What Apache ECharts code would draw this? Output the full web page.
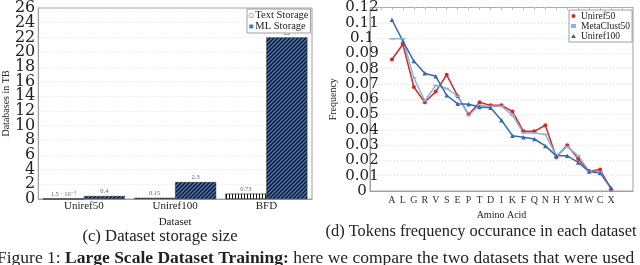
<!DOCTYPE html>
<html><head><meta charset="utf-8">
<script src="https://cdn.jsdelivr.net/npm/echarts@6/dist/echarts.min.js"></script>
<style>html,body{margin:0;padding:0;background:#fff}#c{width:640px;height:265px}</style>
</head><body><div id="c"></div>
<script>
// ---- data ----
const datasets = ['Uniref50', 'Uniref100', 'BFD'];
const textStorage = [0.015, 0.15, 0.73];
const mlStorage = [0.4, 2.3, 22];
const textStorageLabels = ['1.5 · 10⁻²', '0.15', '0.73'];
const mlStorageLabels = ['0.4', '2.3', '22'];

const aminoAcids = ['A','L','G','R','V','S','E','P','T','D','I','K','F','Q','N','H','Y','M','W','C','X'];
const uniref50 = [0.086,0.096,0.068,0.058,0.065,0.076,0.062,0.050,0.058,0.056,0.056,0.052,0.039,0.039,0.043,0.022,0.030,0.021,0.013,0.014,0.001];
const metaclust50 = [0.0995,0.0995,0.074,0.059,0.069,0.067,0.062,0.0495,0.056,0.0555,0.0555,0.0495,0.038,0.038,0.037,0.023,0.029,0.023,0.013,0.0125,0.001];
const uniref100 = [0.112,0.098,0.085,0.077,0.075,0.0626,0.057,0.0567,0.055,0.0545,0.0463,0.0362,0.0352,0.034,0.0295,0.023,0.023,0.0187,0.0127,0.0117,0.0022];

const SERIF = '"Liberation Serif", "DejaVu Serif", serif';
const NUMF = '"DejaVu Serif", serif';
const BLUE = '#4677c2';

function makePattern(kind) {
  const c = document.createElement('canvas');
  const g = c.getContext('2d');
  if (kind === 'diag') {
    c.width = 4; c.height = 4;
    g.fillStyle = BLUE; g.fillRect(0, 0, 4, 4);
    g.strokeStyle = '#111'; g.lineWidth = 1.3;
    g.beginPath();
    g.moveTo(-1, 5); g.lineTo(5, -1);
    g.moveTo(-1, 1); g.lineTo(1, -1);
    g.moveTo(3, 5); g.lineTo(5, 3);
    g.stroke();
  } else {
    c.width = 3; c.height = 4;
    g.fillStyle = '#fff'; g.fillRect(0, 0, 3, 4);
    g.fillStyle = '#111'; g.fillRect(1, 0, 1, 4);
  }
  return c;
}

const chart = echarts.init(document.getElementById('c'), null, {renderer: 'canvas'});
const gridLine = {show: true, lineStyle: {color: '#d8d8d8', type: [1, 2], width: 0.8}};
// left axis labels split over two overlaid axes (every other tick each) so none is auto-hidden
const leftLabel = (parity) => ({
  fontFamily: NUMF, fontSize: 16, color: '#222', margin: 3,
  formatter: v => ((v / 2) % 2 === parity) ? String(v) : ''
});

chart.setOption({
  animation: false,
  backgroundColor: '#fff',
  grid: [
    {left: 37, top: 6, width: 275, height: 193, show: true, borderColor: '#a0a0a0', borderWidth: 1},
    {left: 370, top: 7, width: 263, height: 184, show: true, borderColor: '#a0a0a0', borderWidth: 1}
  ],
  legend: [
    {
      left: 247, top: 9, orient: 'vertical', itemGap: 0, itemWidth: 4, itemHeight: 4,
      padding: [1, 2, 1, 2], borderColor: '#888', borderWidth: 0.8, backgroundColor: '#fff',
      textStyle: {fontFamily: SERIF, fontSize: 10.5, color: '#222', lineHeight: 9, padding: [0, 0, 0, -3]},
      data: [
        {name: 'Text Storage', itemStyle: {color: '#fff', borderColor: '#777', borderWidth: 0.6}},
        {name: 'ML Storage', itemStyle: {color: BLUE, borderWidth: 0}}
      ]
    },
    {
      left: 569, top: 10, orient: 'vertical', itemGap: 0, itemWidth: 5, itemHeight: 4,
      padding: [1, 2, 1, 2], borderColor: '#888', borderWidth: 0.8, backgroundColor: '#fff',
      textStyle: {fontFamily: SERIF, fontSize: 9.5, color: '#222', lineHeight: 8.3, width: 48, align: 'center'},
      data: [
        {name: 'Uniref50', icon: 'circle'},
        {name: 'MetaClust50', icon: 'rect', itemStyle: {color: '#8ab4dc'}},
        {name: 'Uniref100', icon: 'triangle'}
      ]
    }
  ],
  xAxis: [
    {
      type: 'category', gridIndex: 0, data: datasets,
      axisLine: {lineStyle: {color: '#a0a0a0'}}, axisTick: {show: false},
      axisLabel: {fontFamily: SERIF, fontSize: 11, color: '#222', margin: 2},
      name: 'Dataset', nameLocation: 'middle', nameGap: 12,
      nameTextStyle: {fontFamily: SERIF, fontSize: 11, color: '#222'}
    },
    {
      type: 'value', gridIndex: 1, min: -2, max: 22, interval: 1,
      axisLine: {onZero: false, lineStyle: {color: '#a0a0a0'}}, axisTick: {show: false},
      splitLine: {show: false},
      axisLabel: {
        fontFamily: SERIF, fontSize: 10, color: '#333', margin: 4,
        formatter: v => (v >= 0 && v < aminoAcids.length) ? aminoAcids[v] : ''
      },
      name: 'Amino Acid', nameLocation: 'middle', nameGap: 15,
      nameTextStyle: {fontFamily: SERIF, fontSize: 10, color: '#222'}
    },
    {
      type: 'value', gridIndex: 1, min: -2, max: 22, interval: 1, position: 'top',
      axisLine: {show: false, onZero: false}, axisLabel: {show: false}, splitLine: {show: false},
      axisTick: {show: true, inside: true, length: 2.5, lineStyle: {color: '#bbb'}}
    }
  ],
  yAxis: [
    {
      type: 'value', gridIndex: 0, min: 0, max: 26, interval: 2,
      axisLine: {show: true, onZero: false, lineStyle: {color: '#a0a0a0'}}, axisTick: {show: false},
      splitLine: gridLine,
      axisLabel: leftLabel(0),
      name: 'Databases in TB', nameLocation: 'middle', nameGap: 22,
      nameTextStyle: {fontFamily: SERIF, fontSize: 10, color: '#222'}
    },
    {
      type: 'value', gridIndex: 1, min: 0, max: 0.12, interval: 0.01,
      axisLine: {show: true, onZero: false, lineStyle: {color: '#a0a0a0'}}, axisTick: {show: false},
      splitLine: gridLine,
      axisLabel: {
        fontFamily: NUMF, fontSize: 15, lineHeight: 6, color: '#222', margin: 8, align: 'center',
        padding: [6, 0, 0, 0], showMinLabel: true, showMaxLabel: true,
        formatter: v => String(+v.toFixed(2))
      },
      name: 'Frequency', nameLocation: 'middle', nameGap: 32,
      nameTextStyle: {fontFamily: SERIF, fontSize: 10, color: '#222'}
    },
    {
      type: 'value', gridIndex: 0, min: 0, max: 26, interval: 2, position: 'left',
      axisLine: {show: false, onZero: false}, axisTick: {show: false}, splitLine: {show: false},
      axisLabel: leftLabel(1)
    }
  ],
  series: [
    {
      name: 'Text Storage', type: 'bar', xAxisIndex: 0, yAxisIndex: 0,
      data: textStorage, barWidth: 41, barGap: '0%',
      itemStyle: {color: {image: makePattern('vert'), repeat: 'repeat'}, borderColor: '#111', borderWidth: 0.6},
      label: {show: true, position: 'top', distance: 1, fontFamily: SERIF, fontSize: 6.5, color: '#666',
        formatter: p => textStorageLabels[p.dataIndex]}
    },
    {
      name: 'ML Storage', type: 'bar', xAxisIndex: 0, yAxisIndex: 0,
      data: mlStorage, barWidth: 41, barGap: '0%',
      itemStyle: {color: {image: makePattern('diag'), repeat: 'repeat'}, borderColor: '#222', borderWidth: 0.5},
      label: {show: true, position: 'top', distance: 1, fontFamily: SERIF, fontSize: 6.5, color: '#666',
        formatter: p => mlStorageLabels[p.dataIndex]}
    },
    {
      name: 'Uniref50', type: 'line', xAxisIndex: 1, yAxisIndex: 1,
      data: uniref50.map((v, i) => [i, v]),
      color: '#d62828', lineStyle: {width: 1.5}, symbol: 'circle', symbolSize: 4
    },
    {
      name: 'MetaClust50', type: 'line', xAxisIndex: 1, yAxisIndex: 1,
      data: metaclust50.map((v, i) => [i, v]),
      color: '#8ab4dc', lineStyle: {width: 1.5}, symbol: 'rect', symbolSize: [5, 1.6]
    },
    {
      name: 'Uniref100', type: 'line', xAxisIndex: 1, yAxisIndex: 1,
      data: uniref100.map((v, i) => [i, v]),
      color: '#3568b0', lineStyle: {width: 1.5}, symbol: 'triangle', symbolSize: 4.5
    }
  ],
  graphic: [
    {type: 'text', x: 160, y: 237, silent: true,
      style: {text: '(c) Dataset storage size', fontFamily: SERIF, fontSize: 16.7, fill: '#222', align: 'center', verticalAlign: 'middle'}},
    {type: 'text', x: 481, y: 232, silent: true,
      style: {text: '(d) Tokens frequency occurance in each dataset', fontFamily: SERIF, fontSize: 16.4, fill: '#222', align: 'center', verticalAlign: 'middle'}},
    {type: 'text', x: -3, y: 258, silent: true,
      style: {
        text: 'Figure 1: {b|Large Scale Dataset Training:} here we compare the two datasets that were used',
        fontFamily: SERIF, fontSize: 17.5, fill: '#222', align: 'left', verticalAlign: 'middle',
        rich: {b: {fontFamily: SERIF, fontSize: 17.5, fontWeight: 'bold', fill: '#222'}}
      }}
  ]
});
</script></body></html>
